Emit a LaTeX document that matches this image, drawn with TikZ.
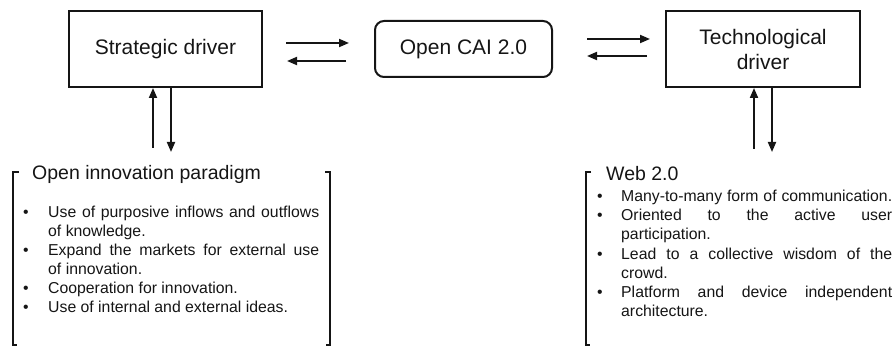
\documentclass[tikz,border=0pt]{standalone}
\usepackage{fontspec}
\setmainfont{Liberation Sans}
\usetikzlibrary{arrows.meta}
\definecolor{ink}{HTML}{151515}
% a justified line of a bullet list
\newcommand{\jline}[1]{\makebox[271pt][s]{#1}}
\begin{document}
\begin{tikzpicture}[x=1pt,y=-1pt,
  mainbox/.style={draw=ink, line width=2pt, minimum width=193pt, minimum height=76pt,
    inner sep=0pt, font=\fontsize{21}{25}\selectfont, align=center, text=ink},
  hubbox/.style={mainbox, rounded corners=9pt, minimum width=177pt, minimum height=56pt},
  flow/.style={-{Triangle[length=10pt,width=8pt]}, line width=1.9pt, draw=ink},
  bracket/.style={draw=ink, line width=2pt},
  listtitle/.style={anchor=base west, inner sep=0pt, font=\fontsize{19.5}{23}\selectfont, text=ink},
  itemtxt/.style={anchor=base west, inner sep=0pt, font=\fontsize{15.8}{19}\selectfont, text=ink},
  bulletmark/.style={anchor=base, inner sep=0pt, font=\fontsize{15.8}{19}\selectfont, text=ink}]
\useasboundingbox (0,0) rectangle (895,347);

% drivers and hub
\node[mainbox] (strat) at (165.5,49) {Strategic driver};
\node[hubbox] (cai) at (463.5,49) {Open CAI 2.0};
\node[mainbox, minimum width=194pt] (tech) at (763,49) {Technological\\driver};

% horizontal exchanges
\draw[flow, shorten <=23pt, shorten >=25pt] ([yshift=6pt]strat.east) -- ([yshift=6pt]cai.west);
\draw[flow, shorten <=28pt, shorten >=24pt] ([yshift=-12pt]cai.west) -- ([yshift=-12pt]strat.east);
\draw[flow, shorten <=34pt, shorten >=15pt] ([yshift=10pt]cai.east) -- ([yshift=10pt]tech.west);
\draw[flow, shorten <=18pt, shorten >=34pt] ([yshift=-7pt]tech.west) -- ([yshift=-7pt]cai.east);

% vertical exchanges with the lists
\coordinate (sUp) at (153,148);
\coordinate (sDown) at (171,152);
\coordinate (tUp) at (754,149);
\coordinate (tDown) at (772,152);
\draw[flow] (sUp) -- (strat.south -| sUp);
\draw[flow] (strat.south -| sDown) -- (sDown);
\draw[flow] (tUp) -- (tech.south -| tUp);
\draw[flow] (tech.south -| tDown) -- (tDown);

% brackets
\draw[bracket] (19,172) -- (13,172) -- (13,345) -- (17,345);
\draw[bracket] (325,172) -- (330,172) -- (330,345) -- (326,345);
\draw[bracket] (591,172) -- (586,172) -- (586,345) -- (590,345);

% open innovation list
\node[listtitle] (oiTitle) at (32,180) {Open innovation paradigm};
\node[bulletmark] (oiB1) at (26,218) {\textbullet};
\node[itemtxt] (oiL1) at (48,218) {\jline{Use of purposive inflows and outflows}};
\node[itemtxt] (oiL2) at (48,237) {of knowledge.};
\node[bulletmark] (oiB2) at (26,256) {\textbullet};
\node[itemtxt] (oiL3) at (48,256) {\jline{Expand the markets for external use}};
\node[itemtxt] (oiL4) at (48,275) {of innovation.};
\node[bulletmark] (oiB3) at (26,294) {\textbullet};
\node[itemtxt] (oiL5) at (48,294) {Cooperation for innovation.};
\node[bulletmark] (oiB4) at (26,313) {\textbullet};
\node[itemtxt] (oiL6) at (48,313) {Use of internal and external ideas.};

% web 2.0 list
\node[listtitle] (wbTitle) at (606,181) {Web 2.0};
\node[bulletmark] (wbB1) at (600,202) {\textbullet};
\node[itemtxt] (wbL1) at (621,202) {\jline{Many-to-many form of communication.}};
\node[bulletmark] (wbB2) at (600,221) {\textbullet};
\node[itemtxt] (wbL2) at (621,221) {\jline{Oriented to the active user}};
\node[itemtxt] (wbL3) at (621,240) {participation.};
\node[bulletmark] (wbB3) at (600,260) {\textbullet};
\node[itemtxt] (wbL4) at (621,260) {\jline{Lead to a collective wisdom of the}};
\node[itemtxt] (wbL5) at (621,279) {crowd.};
\node[bulletmark] (wbB4) at (600,298) {\textbullet};
\node[itemtxt] (wbL6) at (621,298) {\jline{Platform and device independent}};
\node[itemtxt] (wbL7) at (621,317) {architecture.};
\end{tikzpicture}
\end{document}
